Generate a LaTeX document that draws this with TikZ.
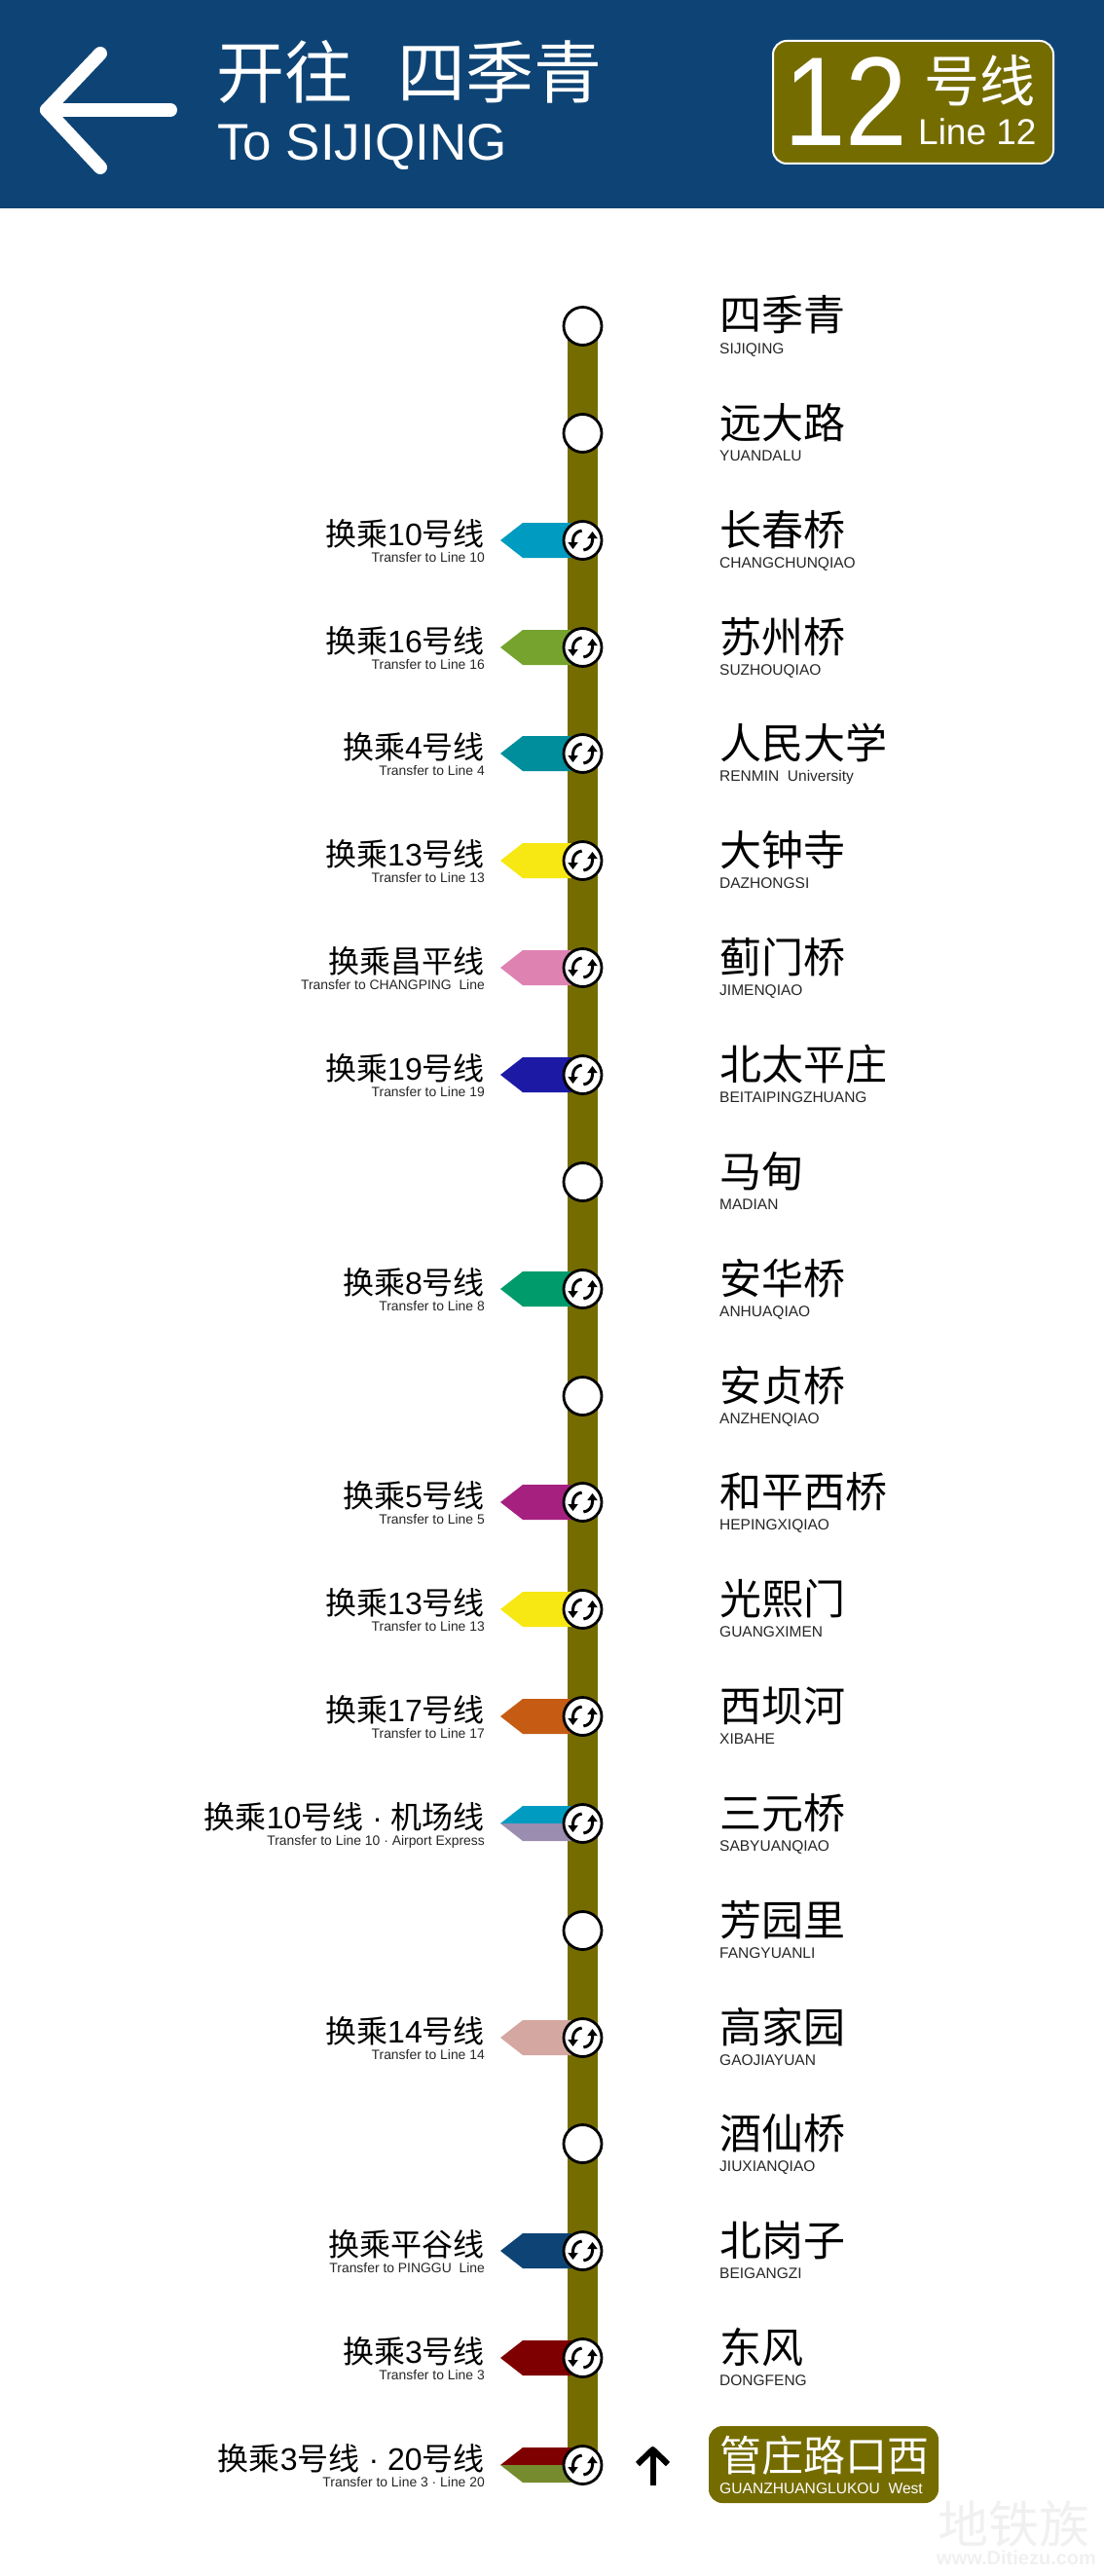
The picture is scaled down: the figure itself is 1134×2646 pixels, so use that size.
\documentclass[tikz,border=0pt]{standalone}
\usepackage{fontspec}
\setmainfont{Liberation Sans}
\newfontfamily\cjk{Noto Sans CJK SC}
\usetikzlibrary{calc,arrows.meta,backgrounds}
\definecolor{headblue}{RGB}{14,68,117}
\definecolor{lineolive}{RGB}{117,108,0}
\definecolor{markfaint}{RGB}{240,240,240}
\definecolor{lineten}{RGB}{0,155,192}
\definecolor{linesixteen}{RGB}{118,163,46}
\definecolor{linefour}{RGB}{0,142,156}
\definecolor{linethirteen}{RGB}{247,231,18}
\definecolor{linechangping}{RGB}{222,130,178}
\definecolor{linenineteen}{RGB}{28,26,165}
\definecolor{lineeight}{RGB}{0,155,107}
\definecolor{linefive}{RGB}{166,33,127}
\definecolor{lineseventeen}{RGB}{198,92,20}
\definecolor{lineairport}{RGB}{154,141,176}
\definecolor{linefourteen}{RGB}{213,167,161}
\definecolor{linethree}{RGB}{127,0,0}
\definecolor{linetwenty}{RGB}{118,139,46}
\tikzset{
    stname/.style={anchor=base west,inner sep=0pt,font=\fontsize{43}{50}\selectfont\cjk},
    stsub/.style={anchor=base west,inner sep=0pt,font=\fontsize{15.5}{18}\selectfont,text=black!85},
    xfername/.style={anchor=base east,inner sep=0pt,font=\fontsize{32}{38}\selectfont},
    xfersub/.style={anchor=base east,inner sep=0pt,font=\fontsize{13.9}{16}\selectfont,text=black!85},
    headtext/.style={anchor=base west,inner sep=0pt,text=white},
    stdot/.style={circle,draw=black,fill=white,line width=2.8pt,minimum size=39pt,inner sep=0pt},
    xferarrow/.style={line width=3pt,line cap=butt,-{Triangle[width=10pt,length=7pt]}},
    platebox/.style={rounded corners=14pt,fill=lineolive,inner sep=0pt}
}
\newcommand{\zh}[1]{{\cjk #1}}
% station: id, y, name, pinyin
\newcommand{\stationrow}[4]{
    \node[stdot] (st#1) at (598.5,#2) {};
    \node[stname] (name#1) at (739,#2+5) {#3};
    \node[stsub] (sub#1) at (739,#2+28) {#4};
}
% turning arrows inside a station circle
\newcommand{\xfericon}[1]{
    \draw[xferarrow] ([shift={(95:10pt)}]st#1.center) arc[start angle=95,end angle=180,radius=10pt] -- ++(0pt,-9pt);
    \draw[xferarrow] ([shift={(275:10pt)}]st#1.center) arc[start angle=275,end angle=360,radius=10pt] -- ++(0pt,9pt);
}
% transfer labels left of the line
\newcommand{\xferlabel}[3]{
    \node[xfername] (xfer#1) at ($(st#1.center)+(-100.5,5)$) {#2};
    \node[xfersub] (xsub#1) at ($(st#1.center)+(-100.5,22)$) {#3};
    \xfericon{#1}
}
% pointed tag: id, colour
\newcommand{\xfertag}[2]{
    \fill[#2] ($(st#1.center)+(-84.5,0)$) -- ++(23,-18) -- ++(50,0) -- ++(0,36) -- ++(-50,0) -- cycle;
}
% pointed tag in two colours: id, upper, lower
\newcommand{\xfertagtwo}[3]{
    \fill[#2] ($(st#1.center)+(-84.5,0)$) -- ++(23,-18) -- ++(50,0) -- ++(0,18) -- cycle;
    \fill[#3] ($(st#1.center)+(-84.5,0)$) -- ++(23,18) -- ++(50,0) -- ++(0,-18) -- cycle;
}

\begin{document}
\begin{tikzpicture}[x=1pt,y=-1pt,line join=round]
    \useasboundingbox (0,0) rectangle (1134,2646);

% header band
    \fill[headblue] (0,0) rectangle (1134,214);
    \draw[white,line width=14pt,line cap=round] (103,55) -- (48,113) -- (103,172);
    \draw[white,line width=14pt,line cap=round] (48,113) -- (175,113);
    \node[headtext,font=\fontsize{70}{80}\selectfont\cjk] (headname) at (222,101) {开往\hspace{46pt}四季青};
    \node[headtext,font=\fontsize{53}{60}\selectfont] (headsub) at (223,165) {To SIJIQING};

% line badge
    \node[platebox,draw=white,line width=2pt,minimum width=288pt,minimum height=126pt] (badge) at (938,105) {};
    \node[headtext,font=\fontsize{130}{140}\selectfont] (badgenum) at (805,150) {\scalebox{0.88}[1]{12}};
    \node[headtext,font=\fontsize{57}{64}\selectfont\cjk] (badgezh) at (949,105) {号线};
    \node[headtext,font=\fontsize{37}{44}\selectfont] (badgeen) at (943,149) {Line 12};

% stations
    \stationrow{1}{335}{四季青}{SIJIQING}
    \stationrow{2}{445}{远大路}{YUANDALU}
    \stationrow{3}{555}{长春桥}{CHANGCHUNQIAO}
    \stationrow{4}{665}{苏州桥}{SUZHOUQIAO}
    \stationrow{5}{774}{人民大学}{RENMIN\ \ University}
    \stationrow{6}{884}{大钟寺}{DAZHONGSI}
    \stationrow{7}{994}{蓟门桥}{JIMENQIAO}
    \stationrow{8}{1104}{北太平庄}{BEITAIPINGZHUANG}
    \stationrow{9}{1214}{马甸}{MADIAN}
    \stationrow{10}{1324}{安华桥}{ANHUAQIAO}
    \stationrow{11}{1434}{安贞桥}{ANZHENQIAO}
    \stationrow{12}{1543}{和平西桥}{HEPINGXIQIAO}
    \stationrow{13}{1653}{光熙门}{GUANGXIMEN}
    \stationrow{14}{1763}{西坝河}{XIBAHE}
    \stationrow{15}{1873}{三元桥}{SABYUANQIAO}
    \stationrow{16}{1983}{芳园里}{FANGYUANLI}
    \stationrow{17}{2093}{高家园}{GAOJIAYUAN}
    \stationrow{18}{2202}{酒仙桥}{JIUXIANQIAO}
    \stationrow{19}{2312}{北岗子}{BEIGANGZI}
    \stationrow{20}{2422}{东风}{DONGFENG}
    \node[stdot] (st21) at (598.5,2532) {};

% route line and tags, behind the circles
    \begin{scope}[on background layer]
        \draw[lineolive,line width=31pt] (st1.center) -- (st21.center);
        \xfertag{3}{lineten}
        \xfertag{4}{linesixteen}
        \xfertag{5}{linefour}
        \xfertag{6}{linethirteen}
        \xfertag{7}{linechangping}
        \xfertag{8}{linenineteen}
        \xfertag{10}{lineeight}
        \xfertag{12}{linefive}
        \xfertag{13}{linethirteen}
        \xfertag{14}{lineseventeen}
        \xfertagtwo{15}{lineten}{lineairport}
        \xfertag{17}{linefourteen}
        \xfertag{19}{headblue}
        \xfertag{20}{linethree}
        \xfertagtwo{21}{linethree}{linetwenty}
    \end{scope}

% transfer labels
    \xferlabel{3}{\zh{换乘}10\zh{号线}}{Transfer to Line 10}
    \xferlabel{4}{\zh{换乘}16\zh{号线}}{Transfer to Line 16}
    \xferlabel{5}{\zh{换乘}4\zh{号线}}{Transfer to Line 4}
    \xferlabel{6}{\zh{换乘}13\zh{号线}}{Transfer to Line 13}
    \xferlabel{7}{\zh{换乘昌平线}}{Transfer to CHANGPING\ \ Line}
    \xferlabel{8}{\zh{换乘}19\zh{号线}}{Transfer to Line 19}
    \xferlabel{10}{\zh{换乘}8\zh{号线}}{Transfer to Line 8}
    \xferlabel{12}{\zh{换乘}5\zh{号线}}{Transfer to Line 5}
    \xferlabel{13}{\zh{换乘}13\zh{号线}}{Transfer to Line 13}
    \xferlabel{14}{\zh{换乘}17\zh{号线}}{Transfer to Line 17}
    \xferlabel{15}{\zh{换乘}10\zh{号线} · \zh{机场线}}{Transfer to Line 10 · Airport Express}
    \xferlabel{17}{\zh{换乘}14\zh{号线}}{Transfer to Line 14}
    \xferlabel{19}{\zh{换乘平谷线}}{Transfer to PINGGU\ \ Line}
    \xferlabel{20}{\zh{换乘}3\zh{号线}}{Transfer to Line 3}
    \xferlabel{21}{\zh{换乘}3\zh{号线} · 20\zh{号线}}{Transfer to Line 3 · Line 20}

% current station plate
    \draw[black,line width=6pt] (670.5,2553) -- (670.5,2518);
    \draw[black,line width=6pt] (655,2531) -- (670.5,2516) -- (686,2531);
    \node[platebox,minimum width=236pt,minimum height=79pt] (nowplate) at (846,2531.5) {};
    \node[stname,text=white] (nowname) at (739,2538) {管庄路口西};
    \node[stsub,text=white,font=\fontsize{15.6}{18}\selectfont] (nowsub) at (739,2561) {GUANZHUANGLUKOU\ \ West};

% watermark
    \node[stname,text=markfaint,font=\fontsize{52}{60}\selectfont\cjk] (markzh) at (963,2612) {地铁族};
    \node[stsub,text=markfaint,font=\fontsize{20}{24}\selectfont\bfseries] (marken) at (962,2634) {www.Ditiezu.com};

\end{tikzpicture}
\end{document}
